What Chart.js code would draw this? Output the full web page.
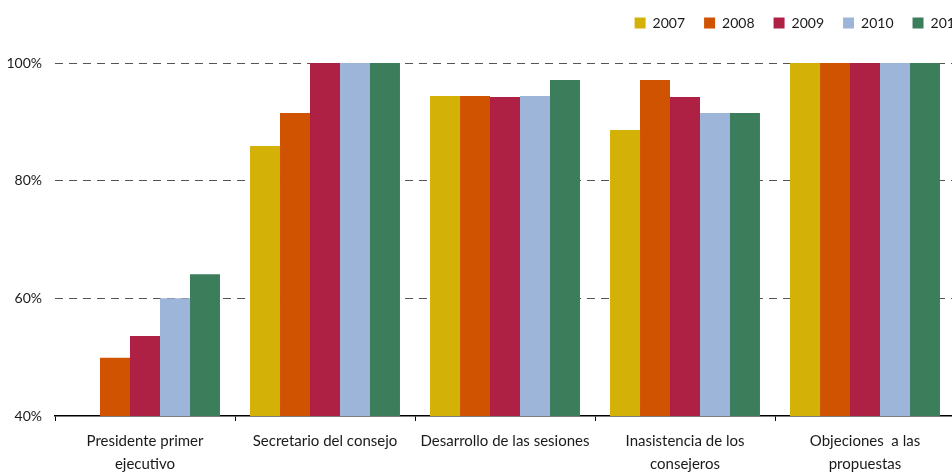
<!DOCTYPE html>
<html>
<head>
<meta charset="utf-8">
<script src="https://cdn.jsdelivr.net/npm/chart.js@4"></script>
<style>
  html, body { margin: 0; padding: 0; background: #fff; overflow: hidden; }
  #wrap { width: 982px; height: 484px; }
</style>
</head>
<body>
<div id="wrap"><canvas id="myChart" width="982" height="484"></canvas></div>
<script>
const categories = [
    ['Presidente primer', 'ejecutivo'],
    'Secretario del consejo',
    'Desarrollo de las sesiones',
    ['Inasistencia de los', 'consejeros'],
    ['Objeciones  a las', 'propuestas']
];

const years = ['2007', '2008', '2009', '2010', '2011'];

const v2007 = [null, 85.9, 94.4, 88.6, 100];
const v2008 = [49.9, 91.5, 94.4, 97.1, 100];
const v2009 = [53.6, 100, 94.2, 94.2, 100];
const v2010 = [60.0, 100, 94.4, 91.5, 100];
const v2011 = [64.1, 100, 97.1, 91.5, 100];

const colors = ['#d4b106', '#cf5300', '#af2045', '#9db5d8', '#3c7d5b'];

const yTicks = [40, 60, 80, 100];

const seriesValues = [v2007, v2008, v2009, v2010, v2011];

const data = {
    labels: categories,
    datasets: years.map((y, i) => ({
        label: y,
        data: seriesValues[i],
        backgroundColor: colors[i],
        borderWidth: 0,
        categoryPercentage: 0.833,
        barPercentage: 1.0
    }))
};

const fontFamily = 'Lato, "Liberation Sans", sans-serif';

// leave more room between the legend and the plot
const legendGap = {
    id: 'legendGap',
    beforeInit(chart) {
        const fit = chart.legend.fit;
        chart.legend.fit = function () {
            fit.bind(chart.legend)();
            this.height += 23;
        };
    }
};

const config = {
    type: 'bar',
    data: data,
    plugins: [legendGap],
    options: {
        responsive: false,
        animation: false,
        layout: {
            padding: { left: 0, right: 0, top: -3, bottom: 0 }
        },
        plugins: {
            legend: {
                position: 'top',
                align: 'end',
                labels: {
                    boxWidth: 11,
                    boxHeight: 11,
                    padding: 19,
                    color: '#1a1a1a',
                    font: { family: fontFamily, size: 14 }
                }
            },
            tooltip: { enabled: false }
        },
        scales: {
            x: {
                grid: {
                    display: true,
                    offset: true,
                    drawOnChartArea: false,
                    drawTicks: true,
                    tickLength: 5,
                    color: '#000'
                },
                border: { display: true, color: '#000', width: 1.5 },
                ticks: {
                    color: '#1a1a1a',
                    padding: 9,
                    maxRotation: 0,
                    font: { family: fontFamily, size: 15, lineHeight: 1.5 }
                }
            },
            y: {
                min: 40,
                max: 100,
                afterBuildTicks: (axis) => {
                    axis.ticks = yTicks.map(v => ({ value: v }));
                },
                afterFit: (axis) => { axis.width = 55; },
                grid: {
                    color: (ctx) => ctx.tick && ctx.tick.value === 40 ? 'rgba(0,0,0,0)' : '#555',
                    lineWidth: 1,
                    drawTicks: false
                },
                border: { display: false, dash: [8, 6] },
                ticks: {
                    color: '#1a1a1a',
                    padding: 13,
                    font: { family: fontFamily, size: 14 },
                    callback: (v) => v + '%'
                }
            },
            yRight: {
                position: 'right',
                afterFit: (axis) => { axis.width = 27; },
                grid: { drawOnChartArea: false, drawTicks: false },
                border: { display: false },
                ticks: { display: false }
            }
        }
    }
};

const myChart = new Chart(document.getElementById('myChart'), config);
</script>
</body>
</html>
